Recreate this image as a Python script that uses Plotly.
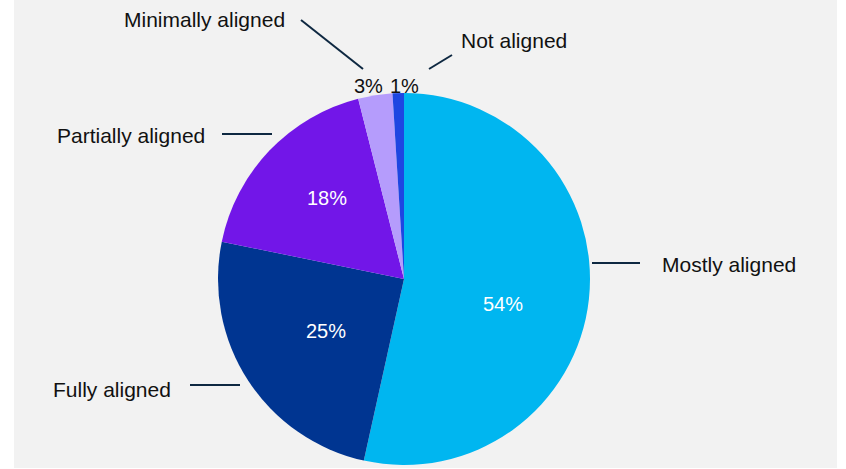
import plotly.graph_objects as go

# Alignment survey shares (percent), clockwise from 12 o'clock
categories = ["Mostly aligned", "Fully aligned", "Partially aligned", "Minimally aligned", "Not aligned"]
shares = [54, 25, 18, 3, 1]
colors = ["#00B6F0", "#003591", "#7216E8", "#B59CFC", "#1E46E2"]
pct_colors = ["white", "white", "white", "#111111", "#111111"]

W, H = 846, 469
FONT = "Liberation Sans, Arial, sans-serif"

# Pie placement in pixels
cx, cy, r = 404, 279, 186

fig = go.Figure(
    go.Pie(
        labels=categories,
        values=shares,
        sort=False,
        direction="clockwise",
        rotation=0,
        marker=dict(colors=colors, line=dict(width=0)),
        textinfo="none",
        showlegend=False,
        hoverinfo="label+percent",
        domain=dict(x=[(cx - r) / W, (cx + r) / W], y=[1 - (cy + r) / H, 1 - (cy - r) / H]),
    )
)

# Percentage label centres (pixels), one per slice
pct_xy = [(503, 304), (326, 331), (327, 198), (368, 86), (404, 86)]

# Category labels with leader lines (pixel coordinates)
callouts = [
    # text, text x, text y, line x0, y0, x1, y1
    ("Mostly aligned", 660, 264, 592, 263, 640, 263),
    ("Fully aligned", 51, 389, 190, 385, 240, 385),
    ("Partially aligned", 55, 135, 222, 134, 272, 134),
    ("Minimally aligned", 122, 19, 301, 20, 363, 69),
    ("Not aligned", 459, 40, 429, 69, 452, 55),
]

shapes = [
    dict(type="rect", xref="paper", yref="paper", x0=14 / W, x1=837 / W, y0=1 - 468 / H, y1=1,
         fillcolor="#F2F2F2", line=dict(width=0), layer="below"),
]
annotations = []
for value, (px, py), col in zip(shares, pct_xy, pct_colors):
    annotations.append(dict(text=f"{value}%", xref="paper", yref="paper", x=px / W, y=1 - py / H,
                            xanchor="center", yanchor="middle", showarrow=False,
                            font=dict(size=20, color=col, family=FONT)))
for text, tx, ty, x0, y0, x1, y1 in callouts:
    shapes.append(dict(type="line", xref="paper", yref="paper",
                       x0=x0 / W, y0=1 - y0 / H, x1=x1 / W, y1=1 - y1 / H,
                       line=dict(color="#0E2841", width=2)))
    annotations.append(dict(text=text, xref="paper", yref="paper", x=tx / W, y=1 - ty / H,
                            xanchor="left", yanchor="middle", showarrow=False,
                            font=dict(size=21, color="#111111", family=FONT)))

fig.update_layout(
    width=W,
    height=H,
    margin=dict(l=0, r=0, t=0, b=0),
    paper_bgcolor="white",
    plot_bgcolor="white",
    shapes=shapes,
    annotations=annotations,
)

fig.write_html("out.html")
